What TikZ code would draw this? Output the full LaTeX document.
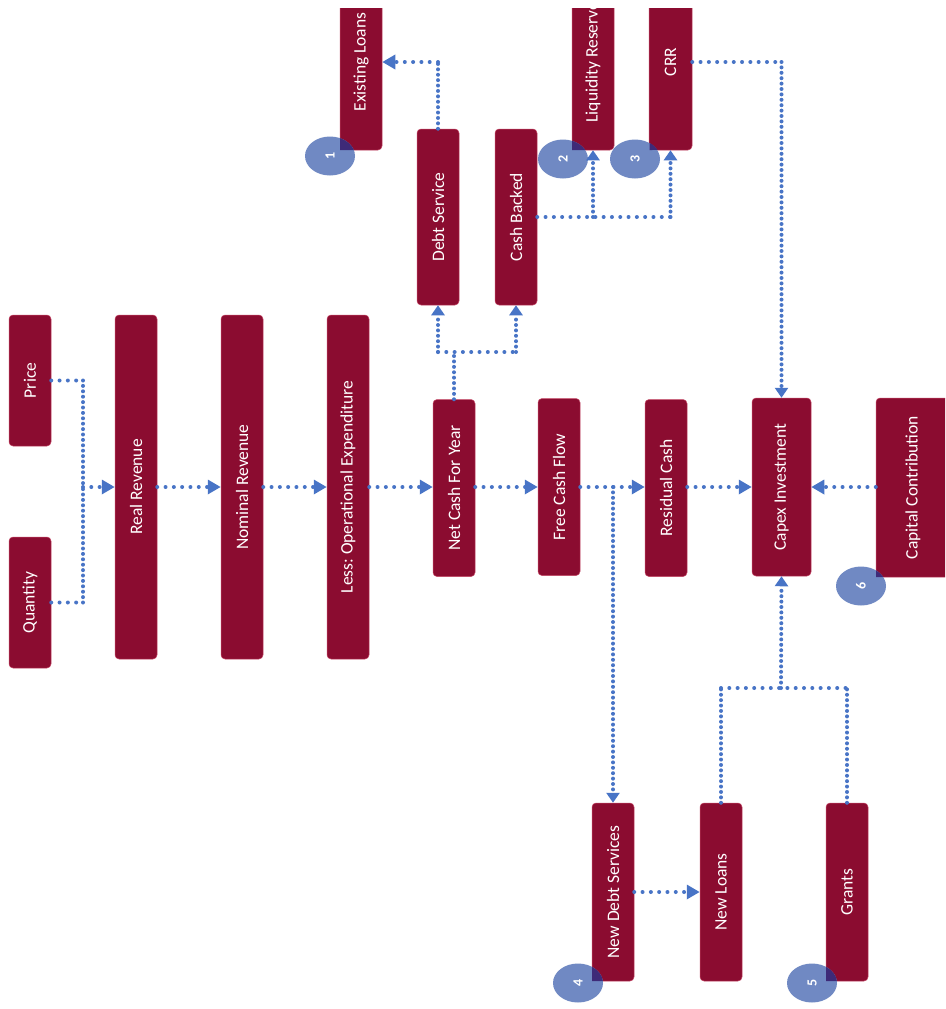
\documentclass[tikz,border=0pt]{standalone}
\usepackage{fontspec}
\setmainfont{Carlito}
\frenchspacing
\usetikzlibrary{arrows.meta,shapes.geometric}
\definecolor{boxred}{RGB}{139,12,48}
\definecolor{boxedge}{RGB}{196,70,100}
\definecolor{conncol}{RGB}{72,116,198}
\definecolor{numcol}{RGB}{112,137,195}
\definecolor{ovlcol}{RGB}{62,42,120}
\tikzset{
  stepbox/.style={rectangle, rounded corners=4pt, fill=boxred, draw=boxedge, line width=0.5pt,
    text=white, inner sep=0pt, font=\fontsize{17.5}{20}\selectfont},
  hconn/.style={draw=conncol, line width=4pt, line cap=round, dash pattern=on 0pt off 8.3pt},
  vconn/.style={draw=conncol, line width=4pt, line cap=round, dash pattern=on 0pt off 5.4pt},
  harr/.style={hconn, -{Triangle[length=13pt,width=14pt,fill=conncol]}},
  varr/.style={vconn, -{Triangle[length=10pt,width=13pt,fill=conncol]}},
  numc/.style={ellipse, fill=numcol, minimum width=50pt, minimum height=39pt, inner sep=0pt,
    text=white, font=\fontsize{14}{16}\selectfont\bfseries},
  ovlfill/.style={fill=ovlcol, draw=none}
}
\newcommand{\vt}[1]{\rotatebox{90}{#1}}
% corner (#1,#2), top point y #3, arc from #4 to #5 degrees
\newcommand{\ovl}[5]{%
  \fill[ovlfill] (#1,#2) -- (#1,#3) arc[start angle=#4, end angle=#5, x radius=25pt, y radius=19.5pt] -- cycle;}
\begin{document}
\begin{tikzpicture}[x=1pt,y=-1pt]
\useasboundingbox (0,0) rectangle (945,1009);
\fill[white] (0,0) rectangle (945,1009);
\begin{scope}
\clip (0,8) rectangle (945,1009);
% main row
\node[stepbox, minimum width=42pt, minimum height=131pt] (price) at (30,380.5) {\vt{Price}};
\node[stepbox, minimum width=42pt, minimum height=131pt] (qty) at (30,602.5) {\vt{Quantity}};
\node[stepbox, minimum width=42pt, minimum height=344pt] (rr) at (136,487) {\vt{Real Revenue}};
\node[stepbox, minimum width=42pt, minimum height=344pt] (nr) at (242,487) {\vt{Nominal Revenue}};
\node[stepbox, minimum width=42pt, minimum height=344pt] (opex) at (348,487) {\vt{Less: Operational Expenditure}};
\node[stepbox, minimum width=42pt, minimum height=177pt] (ncy) at (454,488) {\vt{Net Cash For Year}};
\node[stepbox, minimum width=42pt, minimum height=177pt] (fcf) at (559,487) {\vt{Free Cash Flow}};
\node[stepbox, minimum width=42pt, minimum height=177pt] (rc) at (666,488) {\vt{Residual Cash}};
\node[stepbox, minimum width=59pt, minimum height=178pt] (capex) at (781.5,487) {\vt{Capex Investment}};
\node[stepbox, minimum width=74pt, minimum height=179pt] (cc) at (913,487.5) {\vt{Capital Contribution}};
% upper
\node[stepbox, minimum width=42pt, minimum height=176pt] (ds) at (438,217) {\vt{Debt Service}};
\node[stepbox, minimum width=42pt, minimum height=176pt] (cb) at (516,217) {\vt{Cash Backed}};
\node[stepbox, minimum width=42pt, minimum height=176pt] (el) at (361,62) {\vt{Existing Loans}};
\node[stepbox, minimum width=42pt, minimum height=176pt] (lr) at (593,62) {\vt{Liquidity Reserve}};
\node[stepbox, minimum width=43pt, minimum height=176pt] (crr) at (670.5,62) {\vt{CRR}};
% lower
\node[stepbox, minimum width=42pt, minimum height=178pt] (nds) at (613,892) {\vt{New Debt Services}};
\node[stepbox, minimum width=42pt, minimum height=178pt] (nl) at (721,892) {\vt{New Loans}};
\node[stepbox, minimum width=42pt, minimum height=178pt] (gr) at (847,892) {\vt{Grants}};
% numbers
\node[numc] (n1) at (330,156) {\vt{1}};
\node[numc] (n2) at (563,159) {\vt{2}};
\node[numc] (n3) at (635,159) {\vt{3}};
\node[numc] (n4) at (578,983) {\vt{4}};
\node[numc] (n5) at (812,983) {\vt{5}};
\node[numc] (n6) at (861,586) {\vt{6}};
% overlaps of number badges with box corners
\ovl{340}{150}{138.13}{66.42}{17.92}
\ovl{572}{150}{140.81}{68.90}{27.49}
\ovl{649.5}{150}{142.84}{55.94}{27.49}
\ovl{592}{981}{966.84}{55.94}{5.89}
\ovl{826}{981}{966.84}{55.94}{5.89}
\ovl{876}{577}{570.40}{53.13}{27.49}
% junctions and corners
\coordinate (jpq) at (83,487);
\coordinate (pc) at (price.east -| jpq);
\coordinate (qc) at (qty.east -| jpq);
\coordinate (jn) at (454,352);
\coordinate (jnl) at (jn -| ds.south);
\coordinate (jnr) at (jn -| cb.south);
\coordinate (dsc) at (ds.north |- el.east);
\coordinate (jcb) at (cb.east -| lr.south);
\coordinate (cbc) at (cb.east -| crr.south);
\coordinate (crc) at (crr.east -| capex.north);
\coordinate (jf) at (nds.north |- fcf.east);
\coordinate (jg) at (781,688);
\coordinate (nlc) at (nl.north |- jg);
\coordinate (grc) at (gr.north |- jg);
% connectors
\draw[hconn] (price.east) -- (pc);
\draw[vconn] (pc) -- (jpq);
\draw[hconn] (qty.east) -- (qc);
\draw[vconn] (qc) -- (jpq);
\draw[harr] (jpq) -- (rr.west);
\draw[harr] (rr.east) -- (nr.west);
\draw[harr] (nr.east) -- (opex.west);
\draw[harr] (opex.east) -- (ncy.west |- opex.east);
\draw[harr] (ncy.east |- fcf.west) -- (fcf.west);
\draw[harr] (fcf.east) -- (rc.west |- fcf.east);
\draw[harr] (rc.east |- capex.west) -- (capex.west);
\draw[harr] (cc.west |- capex.east) -- (capex.east);
\draw[vconn] (ncy.north -| jn) -- (jn);
\draw[hconn] (jnl) -- (jnr);
\draw[varr] (jnl) -- (ds.south);
\draw[varr] (jnr) -- (cb.south);
\draw[vconn] (ds.north) -- (dsc);
\draw[harr] (dsc) -- (el.east);
\draw[hconn] (cb.east) -- (cbc);
\draw[varr] (jcb) -- (lr.south);
\draw[varr] (cbc) -- (crr.south);
\draw[hconn] (crr.east) -- (crc);
\draw[varr] (crc) -- (capex.north);
\draw[varr] (jf) -- (nds.north);
\draw[harr] (nds.east) -- (nl.west);
\draw[vconn] (nl.north) -- (nlc);
\draw[vconn] (gr.north) -- (grc);
\draw[hconn] (nlc) -- (grc);
\draw[varr] (jg) -- (capex.south);
\end{scope}
\end{tikzpicture}
\end{document}
